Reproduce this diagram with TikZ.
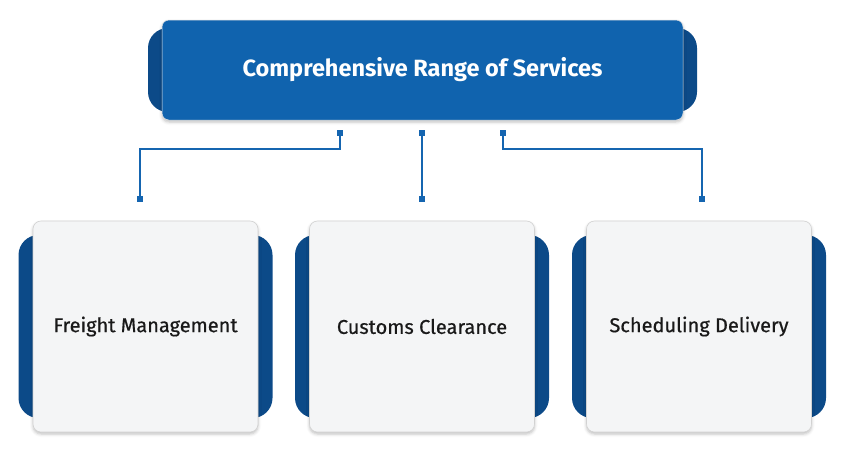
\documentclass[tikz,border=0pt]{standalone}
\usepackage{fontspec}
\setmainfont{Fira Sans}
\newfontfamily\medfont{Fira Sans}[FakeBold=0.6]
\usetikzlibrary{shadows.blur}
\definecolor{topblue}{HTML}{1063AE}
\definecolor{tabblue}{HTML}{0C4A88}
\definecolor{cardbg}{HTML}{F4F5F6}
\definecolor{connblue}{HTML}{1565B0}
\tikzset{
  tabback/.style={fill=tabblue, draw=none, rounded corners=20pt, inner sep=0pt},
  topfront/.style={fill=topblue, draw=gray!20, line width=0.5pt, rounded corners=7pt, inner sep=0pt,
    minimum width=521pt, minimum height=100pt, text=white, font=\bfseries\fontsize{23.5}{27}\selectfont,
    blur shadow={shadow xshift=0pt, shadow yshift=-2pt, shadow blur radius=3pt, shadow opacity=25}},
  card/.style={fill=cardbg, draw=gray!35, line width=0.6pt, rounded corners=8pt, inner sep=0pt,
    minimum width=225pt, minimum height=211pt, text=black!90, font=\medfont\fontsize{20}{24}\selectfont,
    blur shadow={shadow xshift=0pt, shadow yshift=-2pt, shadow blur radius=3pt, shadow opacity=25}},
  sq/.style={fill=connblue, draw=none, minimum size=6pt, inner sep=0pt},
  conn/.style={draw=connblue, line width=1.4pt}
}
\begin{document}
\begin{tikzpicture}[x=1pt, y=-1pt]
\useasboundingbox (0,0) rectangle (848,451);
% top
\node[tabback, minimum width=549pt, minimum height=84pt] (topback) at (422.5,70) {};
\node[topfront] (top) at (422.5,70) {Comprehensive Range of Services};
% cards
\node[tabback, minimum width=254pt, minimum height=183pt] (backA) at (145.5,326.5) {};
\node[card] (cardA) at (145.5,326.5) {Freight Management};
\node[tabback, minimum width=254pt, minimum height=183pt] (backB) at (422,326.5) {};
\node[card] (cardB) at (422,326.5) {Customs Clearance};
\node[tabback, minimum width=254pt, minimum height=183pt] (backC) at (699,326.5) {};
\node[card] (cardC) at (699,326.5) {Scheduling Delivery};
% connectors
\node[sq] (t1) at (340,133) {};
\node[sq] (t2) at (422,133) {};
\node[sq] (t3) at (503,133) {};
\node[sq] (b1) at (140,199) {};
\node[sq] (b2) at (422,199) {};
\node[sq] (b3) at (702,199) {};
\coordinate (hl) at (0,149);
\draw[conn] (t1) -- (t1 |- hl) -| (b1);
\draw[conn] (t2) -- (b2);
\draw[conn] (t3) -- (t3 |- hl) -| (b3);
\end{tikzpicture}
\end{document}
